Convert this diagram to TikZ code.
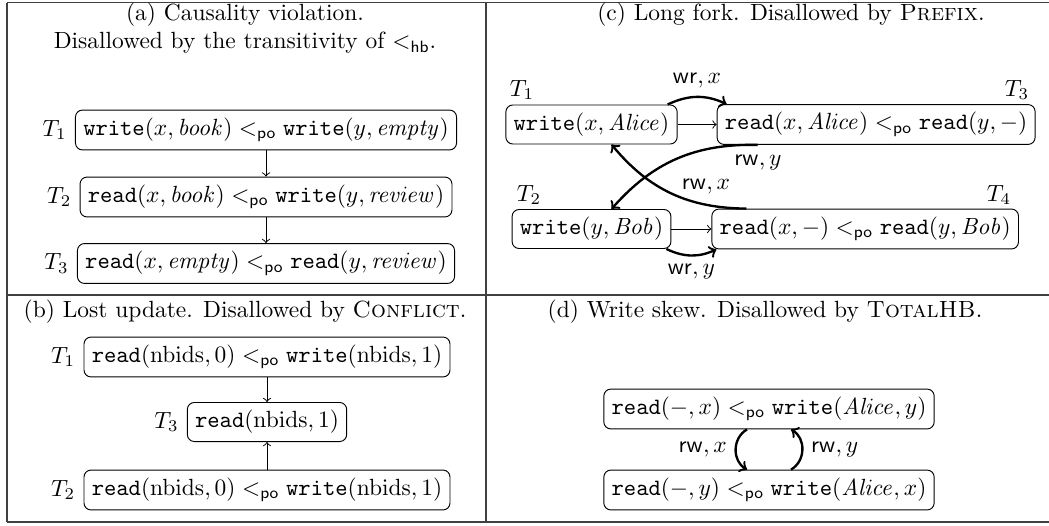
\documentclass[tikz,border=0pt]{standalone}
\usetikzlibrary{calc}
\begin{document}
\begin{tikzpicture}[x=0.4267pt,y=-0.4267pt,
  box/.style={draw, rounded corners=3pt, inner sep=3.33pt},
  po/.style={->},
  dep/.style={->, line width=1pt},
  frame/.style={line width=0.5pt, black!75}]
\useasboundingbox (0,0) rectangle (1049,525);
% table rules
\draw[frame] (7,2.5) -- (1049,2.5);
\draw[frame] (7,295) -- (1049,295);
\draw[frame] (7,522) -- (1049,522);
\draw[frame] (7,2.5) -- (7,522);
\draw[frame] (486,2.5) -- (486,522);
% (a)
\node (ta) at (245,15) {(a) Causality violation.};
\node (ta2) at (245,43) {Disallowed by the transitivity of $<_{\mathsf{hb}}$.};
\node[box,label={left:$T_1$}] (a1) at (266,130) {$\mathtt{write}(x,\mathit{book}) <_{\mathsf{po}} \mathtt{write}(y,\mathit{empty})$};
\node[box,label={left:$T_2$}] (a2) at (266,197) {$\mathtt{read}(x,\mathit{book}) <_{\mathsf{po}} \mathtt{write}(y,\mathit{review})$};
\node[box,label={left:$T_3$}] (a3) at (266,263.5) {$\mathtt{read}(x,\mathit{empty}) <_{\mathsf{po}} \mathtt{read}(y,\mathit{review})$};
\draw[po] (a1) -- (a2);
\draw[po] (a2) -- (a3);
% (b)
\node (tb) at (245,312) {(b) Lost update. Disallowed by \textsc{Conflict}.};
\node[box,label={left:$T_1$}] (b1) at (267,357) {$\mathtt{read}(\mathrm{nbids},0) <_{\mathsf{po}} \mathtt{write}(\mathrm{nbids},1)$};
\node[box,label={left:$T_3$}] (b3) at (267,422) {$\mathtt{read}(\mathrm{nbids},1)$};
\node[box,label={left:$T_2$}] (b2) at (267,490) {$\mathtt{read}(\mathrm{nbids},0) <_{\mathsf{po}} \mathtt{write}(\mathrm{nbids},1)$};
\draw[po] (b1) -- (b3);
\draw[po] (b2) -- (b3);
% (c)
\node (tc) at (791,15) {(c) Long fork. Disallowed by \textsc{Prefix}.};
\node[box] (c1) at (591.5,124.5) {$\mathtt{write}(x,\mathit{Alice})$};
\node[box,anchor=west] (c3) at ($(c1.east)+(39,0)$) {$\mathtt{read}(x,\mathit{Alice}) <_{\mathsf{po}} \mathtt{read}(y,-)$};
\node[box] (c2) at (591.5,229) {$\mathtt{write}(y,\mathit{Bob})$};
\node[box,anchor=west] (c4) at ($(c2.east)+(40,0)$) {$\mathtt{read}(x,-) <_{\mathsf{po}} \mathtt{read}(y,\mathit{Bob})$};
\node (lc1) at (522,90) {$T_1$};
\node (lc3) at (1017,90) {$T_3$};
\node (lc2) at (529,195) {$T_2$};
\node (lc4) at (999,195) {$T_4$};
\draw[po] (c1) -- (c3);
\draw[po] (c2) -- (c4);
\draw[dep] ($(c1.north east)+(-10,0)$) to[bend left=25] node[above] (wrx) {$\mathsf{wr},x$} ($(c3.north west)+(10,0)$);
\draw[dep] ($(c2.south east)+(-5,0)$) to[bend right=25] node[below] (wry) {$\mathsf{wr},y$} ($(c4.south west)+(5,0)$);
\draw[dep] ($(c3.south west)+(41,0)$) to[bend right=25] ($(c2.north)+(20,0)$);
\draw[dep] ($(c4.north west)+(35,0)$) to[bend left=25] ($(c1.south)+(20,0)$);
\node (rwy) at (758,163) {$\mathsf{rw},y$};
\node (rwx) at (706,187) {$\mathsf{rw},x$};
% (d)
\node (td) at (765,312) {(d) Write skew. Disallowed by \textsc{TotalHB}.};
\node[box] (d1) at (769,409) {$\mathtt{read}(-,x) <_{\mathsf{po}} \mathtt{write}(\mathit{Alice},y)$};
\node[box] (d2) at (769,490) {$\mathtt{read}(-,y) <_{\mathsf{po}} \mathtt{write}(\mathit{Alice},x)$};
\draw[dep] ($(d1.south)+(-22,0)$) to[bend right=60, looseness=1.1] node[left] (drx) {$\mathsf{rw},x$} ($(d2.north)+(-22,0)$);
\draw[dep] ($(d2.north)+(22,0)$) to[bend right=60, looseness=1.1] node[right] (dry) {$\mathsf{rw},y$} ($(d1.south)+(22,0)$);
\end{tikzpicture}
\end{document}
